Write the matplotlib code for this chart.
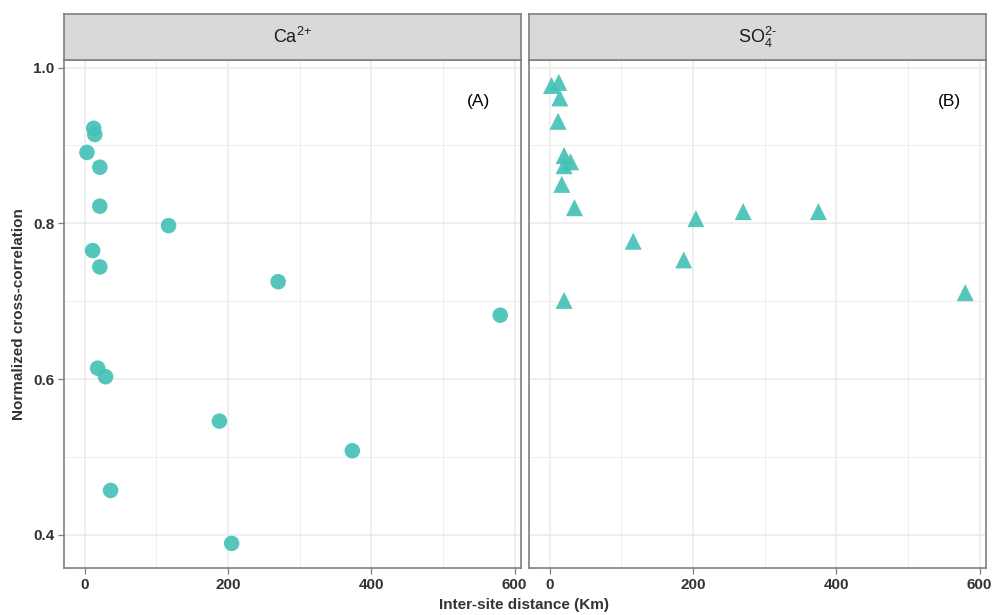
import matplotlib
matplotlib.use("Agg")
import matplotlib.pyplot as plt
from matplotlib.ticker import MultipleLocator

plt.rcParams['font.family'] = ['Liberation Sans', 'DejaVu Sans']
plt.rcParams['mathtext.fontset'] = 'custom'
plt.rcParams['mathtext.rm'] = 'Liberation Sans'
plt.rcParams['mathtext.it'] = 'Liberation Sans:italic'
plt.rcParams['mathtext.bf'] = 'Liberation Sans:bold'

ca_x = [3, 12.5, 14, 21, 21, 117, 11, 21, 270, 580, 18, 29, 188, 373.5, 36, 205]
ca_y = [0.891, 0.922, 0.914, 0.872, 0.822, 0.797, 0.765, 0.744, 0.725, 0.682,
        0.614, 0.603, 0.546, 0.508, 0.457, 0.389]

so4_x = [2.4, 12.6, 14, 11.6, 20, 29, 20, 16.8, 34.5, 116.5, 20, 187, 204, 270, 375, 580]
so4_y = [0.977, 0.981, 0.961, 0.931, 0.887, 0.879, 0.874, 0.850, 0.820, 0.777,
         0.701, 0.753, 0.806, 0.815, 0.815, 0.711]

panel_titles = [r'Ca$^{2\text{+}}$', r'SO$_4^{2\text{-}}$']
panel_tags = ['(A)', '(B)']
x_ticks = [0, 200, 400, 600]
y_ticks = [0.4, 0.6, 0.8, 1.0]

color = '#45C1B7'
grid_c = '#EBEBEB'
border_c = '#7F7F7F'
text_c = '#333333'

fig = plt.figure(figsize=(9.93, 6.15), dpi=100)
W, H = 993, 615

def frac(x0, y0, x1, y1):
    return [x0 / W, 1 - y1 / H, (x1 - x0) / W, (y1 - y0) / H]

panels = [(64, 521), (529, 986)]
data = [(ca_x, ca_y, 'o', 125), (so4_x, so4_y, '^', 150)]

for i, ((x0, x1), (xs, ys, mk, sz)) in enumerate(zip(panels, data)):
    ax = fig.add_axes(frac(x0, 60, x1, 568))
    ax.set_xlim(-29, 609)
    ax.set_ylim(0.3574, 1.0097)
    ax.xaxis.set_major_locator(MultipleLocator(200))
    ax.xaxis.set_minor_locator(MultipleLocator(100))
    ax.set_yticks(y_ticks)
    ax.yaxis.set_minor_locator(MultipleLocator(0.1))
    ax.set_xticks(x_ticks)
    ax.set_xticklabels([str(t) for t in x_ticks])
    ax.grid(True, which='major', color=grid_c, lw=1.1)
    ax.grid(True, which='minor', color=grid_c, lw=0.6)
    ax.set_axisbelow(True)
    ax.tick_params(which='minor', length=0)
    ax.tick_params(which='major', length=4, width=0.9, color=border_c,
                   labelsize=11, labelcolor=text_c, pad=3)
    for lab in ax.get_xticklabels() + ax.get_yticklabels():
        lab.set_fontweight('bold')
    if i == 1:
        ax.tick_params(axis='y', which='both', left=False, labelleft=False)
    for s in ax.spines.values():
        s.set_color(border_c)
        s.set_linewidth(1.2)
    ax.scatter(xs, ys, marker=mk, s=sz, color=color, alpha=0.92,
               edgecolors='none', zorder=3)
    ax.text(0.908 if i == 0 else 0.92, 0.918, panel_tags[i], transform=ax.transAxes,
            ha='center', va='center', fontsize=12.5, color='black',
            bbox=dict(facecolor='white', edgecolor='none', pad=6))
    if i == 0:
        ax.set_ylabel('Normalized cross-correlation', fontsize=11, fontweight='bold',
                      color=text_c, labelpad=5)

    sax = fig.add_axes(frac(x0, 14, x1, 60))
    sax.set_facecolor('#D9D9D9')
    sax.set_xticks([])
    sax.set_yticks([])
    for s in sax.spines.values():
        s.set_color(border_c)
        s.set_linewidth(1.2)
    sax.text(0.5, 0.5, panel_titles[i], transform=sax.transAxes, ha='center',
             va='center', fontsize=13, color='#1A1A1A')

fig.text(524 / W, 1 - 605 / H, 'Inter-site distance (Km)', ha='center', va='center',
         fontsize=11, fontweight='bold', color=text_c)

fig.savefig('out.png', dpi=100)
